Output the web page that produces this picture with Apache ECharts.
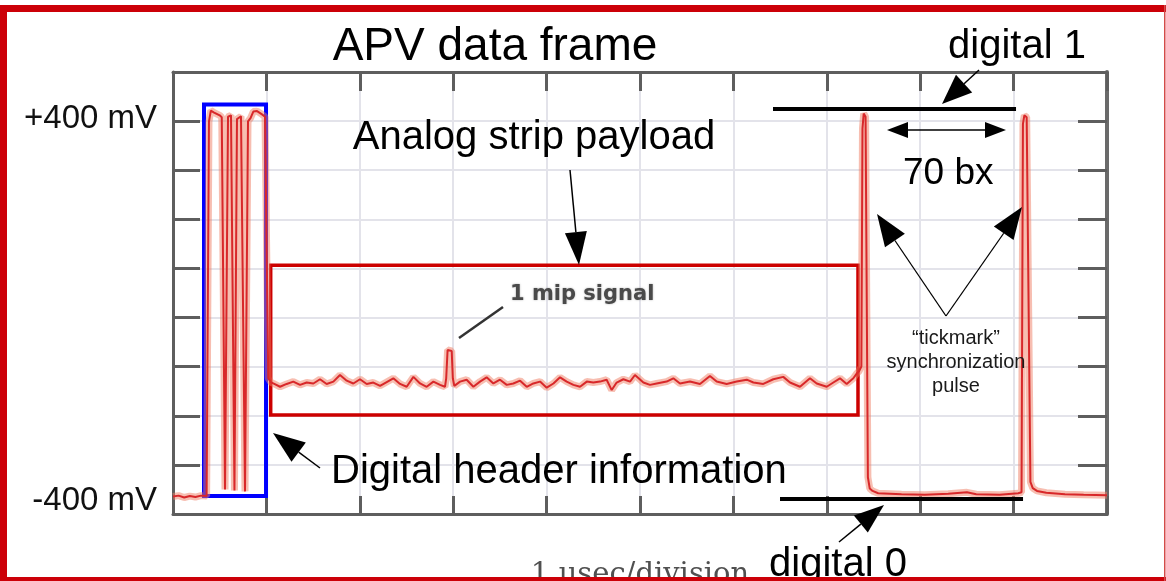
<!DOCTYPE html>
<html>
<head>
<meta charset="utf-8">
<script src="https://cdn.jsdelivr.net/npm/echarts@6/dist/echarts.min.js"></script>
<style>
  html, body { margin: 0; padding: 0; background: #fff; }
  #chart { width: 1166px; height: 581px; }
</style>
</head>
<body>
<div id="chart"></div>
<script>
// APV25 output frame on the scope: time in µs (1 µs per division), amplitude in mV.

// Idle level before the frame starts
const leadIn = [
  [0.00, -401], [0.06, -399], [0.12, -403], [0.18, -400], [0.24, -402], [0.30, -399], [0.36, -400]
];

// Digital header: start bits, address bits and error bit
const digitalHeader = [
  [0.375, -398], [0.385, 395], [0.405, 418], [0.440, 414], [0.500, 408], [0.522, 404],
  [0.557, -386], [0.589, 405], [0.621, 408], [0.658, -388], [0.685, 400], [0.728, 406],
  [0.771, -390], [0.803, 395], [0.830, 402], [0.860, 416], [0.900, 417], [0.953, 410],
  [0.985, 405], [1.020, -150]
];

// Analog samples of the strips, one strip carrying a 1 MIP hit
const analogPayload = [
  [1.046, -158], [1.074, -161], [1.146, -168], [1.217, -162], [1.288, -157], [1.360, -164],
  [1.431, -159], [1.503, -161], [1.574, -152], [1.645, -162], [1.717, -157], [1.788, -143],
  [1.860, -155], [1.931, -161], [2.002, -152], [2.074, -162], [2.145, -159], [2.217, -166],
  [2.288, -158], [2.359, -150], [2.431, -162], [2.502, -168], [2.574, -147], [2.645, -161],
  [2.716, -168], [2.788, -157], [2.859, -164], [2.912, -168], [2.925, -150], [2.940, -90],
  [2.984, -92], [2.996, -150], [3.012, -166], [3.073, -157], [3.144, -153], [3.216, -168],
  [3.287, -157], [3.358, -148], [3.430, -161], [3.501, -153], [3.573, -164], [3.644, -161],
  [3.716, -155], [3.787, -168], [3.858, -161], [3.930, -157], [4.001, -170], [4.073, -161],
  [4.144, -148], [4.215, -157], [4.287, -164], [4.358, -168], [4.430, -157], [4.500, -159],
  [4.572, -157], [4.643, -153], [4.697, -175], [4.750, -159], [4.822, -152], [4.893, -157],
  [4.946, -143], [5.036, -159], [5.107, -164], [5.178, -161], [5.285, -157], [5.357, -150],
  [5.428, -161], [5.535, -157], [5.642, -162], [5.749, -145], [5.821, -157], [5.928, -162],
  [6.035, -157], [6.143, -153], [6.214, -159], [6.320, -162], [6.427, -152], [6.534, -147],
  [6.606, -159], [6.713, -168], [6.820, -150], [6.892, -161], [6.999, -168], [7.070, -159],
  [7.141, -150], [7.213, -162], [7.284, -150], [7.320, -140]
];

// Two "tickmark" synchronization pulses, 70 bunch crossings apart
const syncPulses = [
  [7.345, -135], [7.370, -125], [7.382, 380], [7.395, 412], [7.415, 405], [7.440, -360],
  [7.460, -384], [7.490, -389], [7.550, -394], [7.800, -396], [8.050, -397], [8.300, -395],
  [8.500, -392], [8.600, -396], [8.850, -397], [9.050, -394], [9.085, -392], [9.100, 390],
  [9.115, 408], [9.140, 404], [9.180, -370], [9.205, -383], [9.250, -389], [9.350, -393],
  [9.550, -396], [9.750, -397], [10.00, -398]
];

// Logic levels and highlighted regions (µs, mV)
const digitalOneLevel = 421;
const digitalZeroLevel = -405;
const digitalOneSpan = [6.424, 9.026];
const digitalZeroSpan = [6.499, 9.101];
const headerBox = { t: [0.332, 0.996], mv: [-400, 431] };
const payloadBox = { t: [1.046, 7.334], mv: [-228, 90] };

// Axis value labels
const voltLabels = [-400, 400];

const trace = leadIn.concat(digitalHeader, analogPayload, syncPulses);

const FONT = '"Liberation Sans", Arial, sans-serif';
const AX = '#5e5e5e';

function graticuleAxis(extra) {
  return Object.assign({
    type: 'value',
    axisLine: { show: true, onZero: false, lineStyle: { color: AX, width: 3 } },
    axisTick: { show: true, inside: true, lineStyle: { color: AX, width: 3 } },
    axisLabel: { show: false },
    splitLine: { show: false }
  }, extra);
}

// Arrow with a filled triangular head ending at (x2, y2)
function arrow(x1, y1, x2, y2, headLen, headHalf, width) {
  const dx = x2 - x1, dy = y2 - y1;
  const len = Math.hypot(dx, dy);
  const ux = dx / len, uy = dy / len;
  const bx = x2 - ux * headLen, by = y2 - uy * headLen;
  const px = -uy, py = ux;
  return [
    { type: 'line', z: 100, shape: { x1: x1, y1: y1, x2: bx, y2: by },
      style: { stroke: '#000', lineWidth: width } },
    { type: 'polygon', z: 100,
      shape: { points: [[x2, y2], [bx + px * headHalf, by + py * headHalf], [bx - px * headHalf, by - py * headHalf]] },
      style: { fill: '#000' } }
  ];
}

function label(text, x, y, size, align, extra) {
  return {
    type: 'text', z: 100, x: x, y: y,
    style: Object.assign({
      text: text, font: size + 'px ' + FONT, fill: '#000',
      textAlign: align, textVerticalAlign: 'middle'
    }, extra || {})
  };
}

const annotations = [
  label('APV data frame', 495, 47, 46, 'center'),
  label('Analog strip payload', 534, 138, 40, 'center'),
  label('Digital header information', 331, 472, 40, 'left'),
  label('digital 1', 948, 47, 40, 'left'),
  label('70 bx', 903, 174, 37, 'left'),
  label('digital 0', 769, 565, 40, 'left'),
  label('\u201ctickmark\u201d\nsynchronization\npulse', 956, 362, 20, 'center', { fill: '#1a1a1a', lineHeight: 24 }),
  label('1 mip signal', 510, 295, 21, 'left', {
    font: 'bold 21px "DejaVu Sans", sans-serif', fill: '#4a4a4a',
    textShadowColor: 'rgba(90,90,90,0.5)', textShadowBlur: 2
  }),
  { type: 'line', z: 100, shape: { x1: 459, y1: 338, x2: 503, y2: 307 },
    style: { stroke: '#333', lineWidth: 2.5 } }
].concat(
  arrow(570, 170, 579, 265, 33, 11, 1.5),
  arrow(320, 468, 273, 433, 32, 12, 1.5),
  arrow(979, 70, 942, 104, 30, 12, 1.5),
  arrow(946, 130, 887, 130, 21, 8, 1.5),
  arrow(946, 130, 1006, 130, 21, 8, 1.5),
  arrow(946, 316, 877, 214, 32, 12, 1.3),
  arrow(946, 316, 1022, 207, 32, 12, 1.3),
  arrow(839, 542, 884, 505, 30, 11, 1.5)
);

// Slide frame drawn on top of everything
const FRAME = '#cc0008';
const frame = [
  { type: 'rect', z: 110, shape: { x: 0, y: 5, width: 7, height: 576 }, style: { fill: FRAME } },
  { type: 'rect', z: 110, shape: { x: 0, y: 5, width: 1166, height: 7 }, style: { fill: FRAME } },
  { type: 'rect', z: 110, shape: { x: 0, y: 577, width: 1166, height: 4 }, style: { fill: FRAME } },
  { type: 'rect', z: 110, shape: { x: 1164, y: 5, width: 1.5, height: 576 }, style: { fill: '#d44a4a' } }
];

const option = {
  animation: false,
  backgroundColor: '#fff',
  grid: { left: 173, top: 72, width: 934, height: 442, outerBoundsMode: 'none', containLabel: false },
  xAxis: [
    graticuleAxis({
      min: 0, max: 10, interval: 1, position: 'bottom',
      axisTick: { show: true, inside: true, length: 18, lineStyle: { color: AX, width: 3 } },
      splitLine: { show: true, lineStyle: { color: '#e3e3ea', width: 2 } },
      name: '1 \u00b5sec/division', nameLocation: 'middle', nameGap: 47,
      nameTextStyle: { fontFamily: '"DejaVu Serif", serif', fontSize: 29, color: '#505050' }
    }),
    graticuleAxis({
      min: 0, max: 10, interval: 1, position: 'top',
      axisTick: { show: true, inside: true, length: 19, lineStyle: { color: AX, width: 3 } }
    })
  ],
  yAxis: [
    graticuleAxis({
      min: 0, max: 9, interval: 1, position: 'left',
      axisTick: { show: true, inside: true, length: 27, lineStyle: { color: AX, width: 3 } },
      splitLine: { show: true, lineStyle: { color: '#e3e3ea', width: 2 } }
    }),
    graticuleAxis({
      min: 0, max: 9, interval: 1, position: 'right',
      axisLine: { show: true, onZero: false, lineStyle: { color: '#6a6a6a', width: 4 } },
      axisTick: { show: true, inside: true, length: 29, lineStyle: { color: AX, width: 3 } }
    }),
    {
      type: 'value', min: -438, max: 500, position: 'left',
      axisLine: { show: false, onZero: false },
      axisTick: { show: false },
      splitLine: { show: false },
      axisLabel: {
        customValues: voltLabels,
        formatter: v => v > 0 ? '{hi|+' + v + ' mV}' : '{lo|' + v + ' mV}',
        fontFamily: FONT, fontSize: 33, color: '#111', margin: 16,
        rich: {
          hi: { fontFamily: FONT, fontSize: 33, color: '#111' },
          lo: { fontFamily: FONT, fontSize: 33, color: '#111', padding: [10, 0, 0, 0] }
        }
      }
    }
  ],
  series: [
    {
      // persistence glow of the trace
      type: 'line', xAxisIndex: 0, yAxisIndex: 2, data: trace,
      showSymbol: false, silent: true, z: 2,
      lineStyle: { color: 'rgba(240,125,100,0.5)', width: 7 }
    },
    {
      type: 'line', xAxisIndex: 0, yAxisIndex: 2, data: trace,
      showSymbol: false, silent: true, z: 3,
      lineStyle: { color: '#d8282a', width: 2 }
    },
    {
      type: 'line', xAxisIndex: 0, yAxisIndex: 2, data: [],
      silent: true, z: 5,
      markArea: {
        silent: true,
        label: { show: false },
        data: [
          [
            { xAxis: headerBox.t[0], yAxis: headerBox.mv[1],
              itemStyle: { color: 'rgba(0,0,0,0)', borderColor: '#0000ff', borderWidth: 4 } },
            { xAxis: headerBox.t[1], yAxis: headerBox.mv[0] }
          ],
          [
            { xAxis: payloadBox.t[0], yAxis: payloadBox.mv[1],
              itemStyle: { color: 'rgba(0,0,0,0)', borderColor: '#cc0000', borderWidth: 3.5 } },
            { xAxis: payloadBox.t[1], yAxis: payloadBox.mv[0] }
          ]
        ]
      },
      markLine: {
        silent: true,
        symbol: ['none', 'none'],
        label: { show: false },
        lineStyle: { color: '#000', width: 4, type: 'solid' },
        data: [
          [{ coord: [digitalOneSpan[0], digitalOneLevel] }, { coord: [digitalOneSpan[1], digitalOneLevel] }],
          [{ coord: [digitalZeroSpan[0], digitalZeroLevel] }, { coord: [digitalZeroSpan[1], digitalZeroLevel] }]
        ]
      }
    }
  ],
  graphic: { elements: annotations.concat(frame) }
};

const chart = echarts.init(document.getElementById('chart'), null, { renderer: 'canvas' });
chart.setOption(option);
</script>
</body>
</html>
